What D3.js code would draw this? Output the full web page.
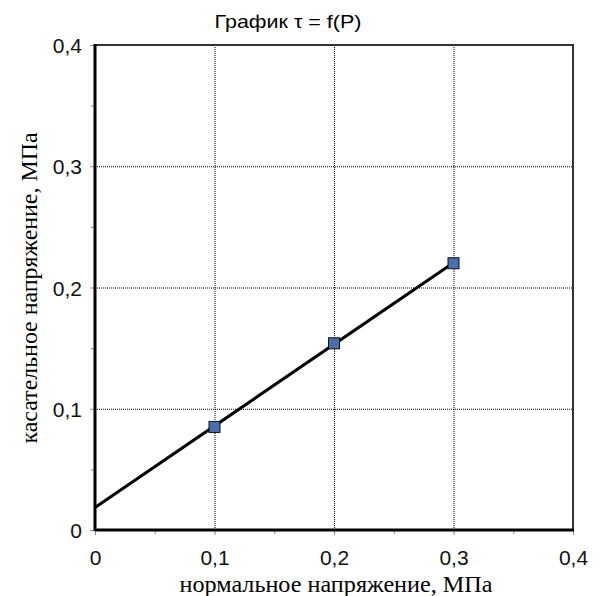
<!DOCTYPE html>
<html><head><meta charset="utf-8">
<script src="https://cdn.jsdelivr.net/npm/d3@7"></script>
<style>body{margin:0;background:#fff}</style>
</head><body>
<svg id="c" width="601" height="596"></svg>
<script>
const title = "График τ = f(P)";
const xTitle = "нормальное напряжение, МПа";
const yTitle = "касательное напряжение, МПа";
const xTicks = [0, 0.1, 0.2, 0.3, 0.4];
const yTicks = [0, 0.1, 0.2, 0.3, 0.4];
const minorTicks = [0.05, 0.15, 0.25, 0.35];
const pX = [0.1, 0.2, 0.3];
const pY = [0.085, 0.154, 0.22];
const trendX = [0, 0.3];
const trendY = [0.0185, 0.2205];

const svg = d3.select("#c");
const L = 95, R = 573, T = 45, B = 530;
const x = d3.scaleLinear().domain([0, 0.4]).range([L, R]);
const y = d3.scaleLinear().domain([0, 0.4]).range([B, T]);
const fmt = d => d === 0 ? "0" : d3.format(".1f")(d).replace(".", ",");
const tickFont = "'Liberation Sans', Arial, sans-serif";

// grid
svg.append("g").selectAll("line").data(xTicks.filter(d => d > 0 && d < 0.4)).join("line")
  .attr("x1", d => x(d) + 0.5).attr("x2", d => x(d) + 0.5).attr("y1", T).attr("y2", B)
  .attr("stroke", "#000").attr("stroke-dasharray", "1,1");
svg.append("g").selectAll("line").data(yTicks.filter(d => d > 0 && d < 0.4)).join("line")
  .attr("y1", d => y(d) + 0.5).attr("y2", d => y(d) + 0.5).attr("x1", L).attr("x2", R)
  .attr("stroke", "#000").attr("stroke-dasharray", "1,1");

// border top/right
svg.append("path").attr("d", `M${L},${T}H${R}V${B}`).attr("fill", "none")
  .attr("stroke", "#333").attr("stroke-width", 2);

// axes
const xAxis = svg.append("g").attr("transform", `translate(0,${B})`)
  .call(d3.axisBottom(x).tickValues(xTicks).tickFormat(fmt).tickSize(5));
const xMinor = svg.append("g").attr("transform", `translate(0,${B})`)
  .call(d3.axisBottom(x).tickValues(minorTicks).tickFormat("").tickSize(4));
const yAxis = svg.append("g").attr("transform", `translate(${L},0)`)
  .call(d3.axisLeft(y).tickValues(yTicks).tickFormat(fmt).tickSize(5).tickPadding(8));
const yMinor = svg.append("g").attr("transform", `translate(${L},0)`)
  .call(d3.axisLeft(y).tickValues(minorTicks).tickFormat("").tickSize(4));
[xAxis, yAxis, xMinor, yMinor].forEach(g => {
  g.select(".domain").remove();
  g.selectAll(".tick line").attr("stroke", "#888");
  g.selectAll("text").attr("font-family", tickFont)
    .attr("font-size", 21).attr("fill", "#111");
});
xAxis.selectAll("text").attr("dy", null).attr("y", 35);
yAxis.selectAll("text").attr("dy", "0.36em");

svg.append("line").attr("x1", L).attr("x2", R + 1).attr("y1", B).attr("y2", B)
  .attr("stroke", "#000").attr("stroke-width", 3);
svg.append("line").attr("x1", L).attr("x2", L).attr("y1", T - 1).attr("y2", B + 1)
  .attr("stroke", "#000").attr("stroke-width", 3);

// trend line
svg.append("path").datum(trendX.map((d, i) => [d, trendY[i]]))
  .attr("d", d3.line().x(d => x(d[0])).y(d => y(d[1])))
  .attr("stroke", "#000").attr("stroke-width", 3).attr("fill", "none");

// markers
svg.append("g").selectAll("rect").data(pX.map((d, i) => [d, pY[i]])).join("rect")
  .attr("x", d => x(d[0]) - 5.5).attr("y", d => y(d[1]) - 5.5).attr("width", 11).attr("height", 11)
  .attr("fill", "#4a6fae").attr("stroke", "#111").attr("stroke-width", 1);

// titles
svg.append("text").attr("x", 288).attr("y", 28).attr("text-anchor", "middle")
  .attr("font-family", "Liberation Sans, Arial, sans-serif").attr("font-size", 19)
  .attr("textLength", 147).attr("lengthAdjust", "spacingAndGlyphs").text(title);
svg.append("text").attr("x", 336).attr("y", 592).attr("text-anchor", "middle")
  .attr("font-family", "Liberation Serif, serif").attr("font-size", 23)
  .attr("textLength", 313).attr("lengthAdjust", "spacingAndGlyphs").text(xTitle);
svg.append("text").attr("transform", "translate(37,288) rotate(-90)").attr("text-anchor", "middle")
  .attr("font-family", "Liberation Serif, serif").attr("font-size", 23)
  .attr("textLength", 311).attr("lengthAdjust", "spacingAndGlyphs").text(yTitle);
</script>
</body></html>
